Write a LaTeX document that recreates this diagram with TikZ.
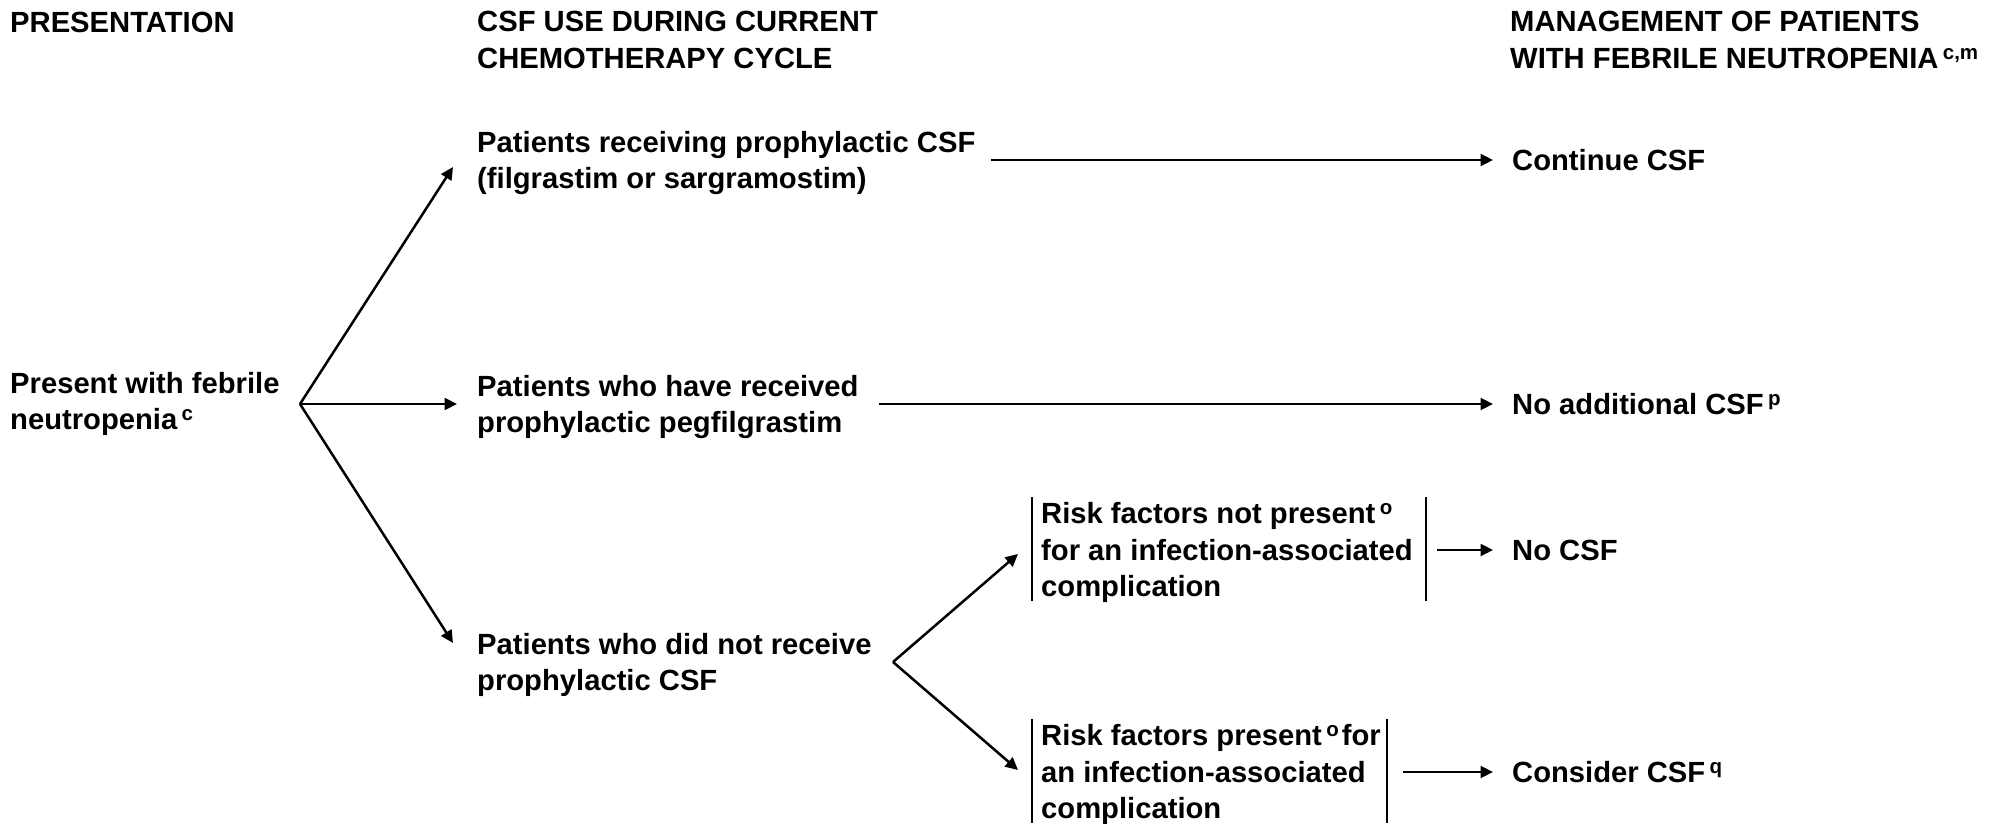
\documentclass[tikz,border=0pt]{standalone}
\usepackage{fontspec}
\setmainfont{Liberation Sans}
\usetikzlibrary{arrows.meta}
\newcommand{\lnstrut}{\rule[-7.8pt]{0pt}{36.5pt}}
\newcommand{\supr}[1]{\hspace{0.15em}\raisebox{9pt}{\fontsize{20.5pt}{20.5pt}\selectfont\bfseries #1}}
\begin{document}
\begin{tikzpicture}[x=1pt,y=-1pt,
  txt/.style={anchor=west, inner sep=0pt, align=left, font=\fontsize{29.2pt}{36.5pt}\selectfont\bfseries},
  arr/.style={line width=2.5pt, -{Triangle[length=12.5pt,width=12pt]}},
  bar/.style={line width=2.5pt}]
\useasboundingbox[fill=white] (0,0) rectangle (1996,824);
% headers
\node[txt] (h1) at (10,21.6) {\lnstrut PRESENTATION};
\node[txt] (h2) at (477,39.5) {\lnstrut CSF USE DURING CURRENT\\\lnstrut CHEMOTHERAPY CYCLE};
\node[txt] (h3) at (1510,39.5) {\lnstrut MANAGEMENT OF PATIENTS\\\lnstrut WITH FEBRILE NEUTROPENIA\supr{c,m}};
% left
\node[txt] (p0) at (10,401) {\lnstrut Present with febrile\\\lnstrut neutropenia\supr{c}};
% middle column
\node[txt] (r1) at (477,160) {\lnstrut Patients receiving prophylactic CSF\\\lnstrut (filgrastim or sargramostim)};
\node[txt] (r2) at (477,404) {\lnstrut Patients who have received\\\lnstrut prophylactic pegfilgrastim};
\node[txt] (r3) at (477,662) {\lnstrut Patients who did not receive\\\lnstrut prophylactic CSF};
% risk boxes
\node[txt] (b1) at (1041,550) {\lnstrut Risk factors not present\supr{o}\\\lnstrut for an infection-associated\\\lnstrut complication};
\node[txt] (b2) at (1041,772) {\lnstrut Risk factors present\supr{o}\hspace{0.1em}for\\\lnstrut an infection-associated\\\lnstrut complication};
% outcomes
\node[txt] (o1) at (1512,160) {\lnstrut Continue CSF};
\node[txt] (o2) at (1512,404) {\lnstrut No additional CSF\supr{p}};
\node[txt] (o3) at (1512,550) {\lnstrut No CSF};
\node[txt] (o4) at (1512,772) {\lnstrut Consider CSF\supr{q}};
% coordinates
\coordinate (f1) at (300,404);
\coordinate (t1) at (453,167);
\coordinate (t3) at (453,643);
\coordinate (f2) at (893,662);
\coordinate (u1) at (1018,554);
\coordinate (u2) at (1018,770);
\coordinate (s3) at (1437,550);
\coordinate (s4) at (1403,772);
% bars
\draw[bar] (1032,497) -- (1032,601);
\draw[bar] (1426,497) -- (1426,601);
\draw[bar] (1032,719) -- (1032,823);
\draw[bar] (1387,719) -- (1387,823);
% arrows
\draw[arr] (f1) -- (t1);
\draw[arr, shorten >=20pt] (f1) -- (r2.west);
\draw[arr] (f1) -- (t3);
\draw[arr] (f2) -- (u1);
\draw[arr] (f2) -- (u2);
\draw[arr, shorten <=15pt, shorten >=19pt] (r1.east) -- (o1.west);
\draw[arr, shorten <=20pt, shorten >=19pt] (r2.east) -- (o2.west);
\draw[arr, shorten >=19pt] (s3) -- (o3.west);
\draw[arr, shorten >=19pt] (s4) -- (o4.west);
\end{tikzpicture}
\end{document}
